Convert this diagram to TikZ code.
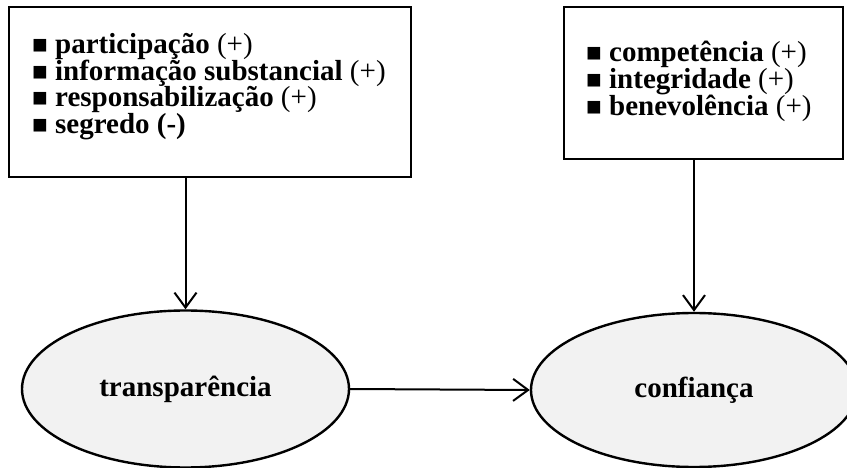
\documentclass[tikz,border=0pt]{standalone}
\usepackage{fontspec}
\setmainfont{Liberation Serif}
\usetikzlibrary{arrows.meta,shapes.geometric}
\definecolor{bubblefill}{HTML}{F2F2F2}
\newcommand{\sqbullet}{{\fontsize{26}{26}\selectfont ■}}
% tight leading in the lists: never fall back to \lineskip
\lineskiplimit=-40pt
\begin{document}
\begin{tikzpicture}[x=1pt,y=-1pt,
  panel/.style={draw, line width=2pt, inner sep=0pt},
  itemlist/.style={anchor=north west, inner sep=0pt, align=left,
    font=\bfseries\fontsize{29}{26.7}\selectfont},
  bubble/.style={ellipse, draw, line width=2.4pt, fill=bubblefill, inner sep=0pt,
    font=\bfseries\fontsize{29}{29}\selectfont},
  arr/.style={line width=2pt, -{Straight Barb[length=15pt,width=22pt]}}]
\useasboundingbox (0,0) rectangle (847,468);

% text boxes
\node[panel, minimum width=402pt, minimum height=170pt] (lbox) at (210,92) {};
\node[panel, minimum width=279pt, minimum height=152pt] (rbox) at (703.5,83) {};

\node[itemlist] (llist) at (32,33)
  {\sqbullet{} participação {\mdseries(+)}\\
   \sqbullet{} informação substancial {\mdseries(+)}\\
   \sqbullet{} responsabilização {\mdseries(+)}\\
   \sqbullet{} segredo (-)};

\node[itemlist] (rlist) at (586,41)
  {\sqbullet{} competência {\mdseries(+)}\\
   \sqbullet{} integridade {\mdseries(+)}\\
   \sqbullet{} benevolência {\mdseries(+)}};

% constructs
\node[bubble, minimum width=327pt, minimum height=157pt] (tra) at (185.5,389) {transparência};
\node[bubble, minimum width=326pt, minimum height=154pt] (con) at (694,390) {confiança};

% relations
\draw[arr] (tra.north |- lbox.south) -- (tra.north);
\draw[arr] (con.north |- rbox.south) -- (con.north);
\draw[arr] (tra.east) -- (con.west);
\end{tikzpicture}
\end{document}
